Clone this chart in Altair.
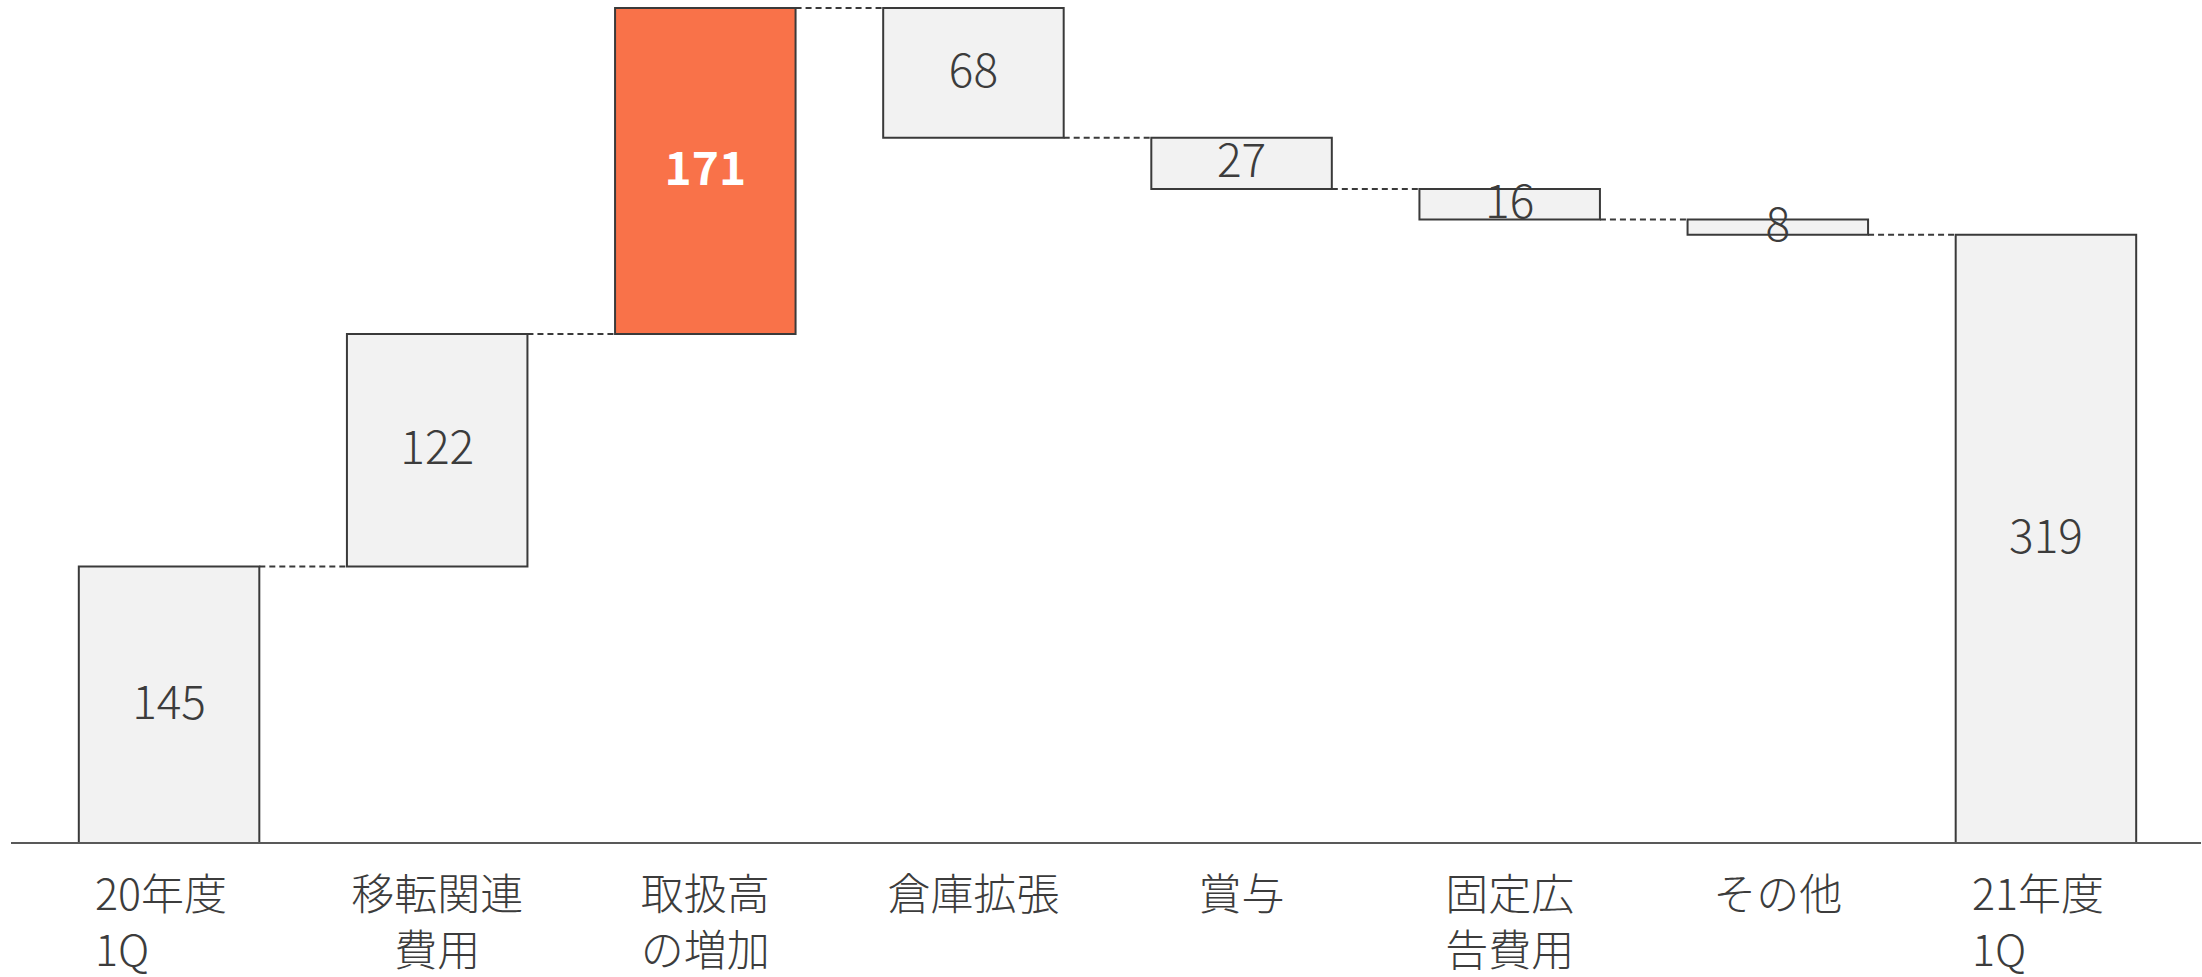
import altair as alt
import pandas as pd

# ---- data ----
line1 = ["20年度", "移転関連", "取扱高", "倉庫拡張", "賞与", "固定広", "その他", "21年度"]
line2 = ["1Q", "費用", "の増加", "", "", "告費用", "", "1Q"]
amounts = [145, 122, 171, 68, 27, 16, 8, 319]
kinds = ["total", "up", "up", "down", "down", "down", "down", "total"]
highlight = [False, False, True, False, False, False, False, False]

HALF = 0.3366  # half bar width in category units
FONT = "Noto Sans CJK JP"
TXT = "#3c3c3c"
EDGE = "#3a3a3a"

rows = []
running = 0
for i, (a, k) in enumerate(zip(amounts, kinds)):
    if k == "total":
        lo, hi = 0, a
        running = a
    elif k == "up":
        lo, hi = running, running + a
        running += a
    else:
        lo, hi = running - a, running
        running -= a
    lab = line1[i] + ("\n" + line2[i] if line2[i] else "")
    rows.append(dict(idx=i, lo=lo, hi=hi, mid=(lo + hi) / 2, end=running,
                     label=str(a), cat=lab, hl=highlight[i],
                     left=i - HALF, right=i + HALF))
df = pd.DataFrame(rows)
conn = pd.DataFrame([dict(x0=i + HALF, x1=i + 1 - HALF, y=rows[i]["end"])
                     for i in range(len(rows) - 1)])

W, H = 2145, 835
xs = alt.Scale(domain=[-0.5, 7.5], nice=False, zero=False)
ys = alt.Scale(domain=[0, 438], nice=False, zero=False)

base = alt.Chart(df)

bars = base.mark_rect(stroke=EDGE, strokeWidth=2).encode(
    x=alt.X("left:Q", scale=xs, axis=None),
    x2="right:Q",
    y=alt.Y("lo:Q", scale=ys, axis=None),
    y2="hi:Q",
    fill=alt.condition("datum.hl", alt.value("#F97249"), alt.value("#F2F2F2")),
)

connectors = alt.Chart(conn).mark_rule(
    color=EDGE, strokeWidth=2, strokeDash=[6, 4]
).encode(
    x=alt.X("x0:Q", scale=xs, axis=None),
    x2="x1:Q",
    y=alt.Y("y:Q", scale=ys, axis=None),
)

axis_line = alt.Chart(pd.DataFrame({"a": [0]})).mark_rule(
    color="#595959", strokeWidth=2
).encode(x=alt.value(-24), x2=alt.value(2166), y=alt.value(H))

vals = base.transform_filter("!datum.hl").mark_text(
    font=FONT, fontSize=46, fontWeight=300, color=TXT, baseline="middle", align="center"
).encode(x=alt.X("idx:Q", scale=xs), y=alt.Y("mid:Q", scale=ys), text="label:N")

vals_hl = base.transform_filter("datum.hl").mark_text(
    font=FONT, fontSize=46, fontWeight="bold", color="white", baseline="middle", align="center"
).encode(x=alt.X("idx:Q", scale=xs), y=alt.Y("mid:Q", scale=ys), text="label:N")

is_edge = "datum.idx == 0 || datum.idx == 7"
lab_kw = dict(font=FONT, fontSize=43, fontWeight=300, color=TXT, baseline="top",
              lineBreak="\n", lineHeight=56)

lab_c = base.transform_filter("!(" + is_edge + ")").mark_text(align="center", **lab_kw).encode(
    x=alt.X("idx:Q", scale=xs), y=alt.value(868), text="cat:N")
lab_l = base.transform_filter(is_edge).mark_text(align="left", dx=-74, **lab_kw).encode(
    x=alt.X("idx:Q", scale=xs), y=alt.value(868), text="cat:N")

chart = alt.layer(
    connectors, bars, axis_line, vals, vals_hl, lab_c, lab_l
).properties(
    width=W, height=H,
    autosize=alt.AutoSizeParams(type="none"),
    padding={"left": 35, "top": 8, "right": 22, "bottom": 134},
    background="white",
).configure_view(stroke=None)

chart.save("out.html", embed_options={"renderer": "svg", "actions": False})
